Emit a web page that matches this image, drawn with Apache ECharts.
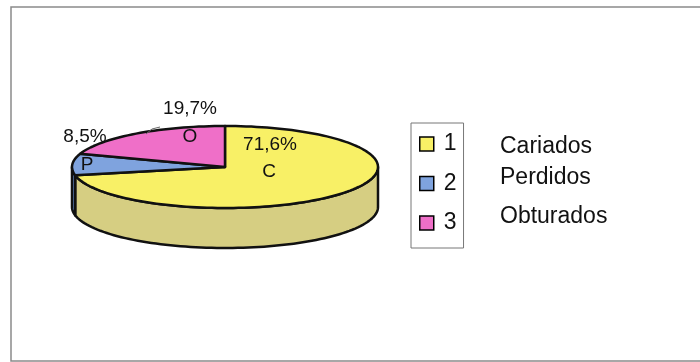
<!DOCTYPE html>
<html>
<head>
<meta charset="utf-8">
<script src="https://cdn.jsdelivr.net/npm/echarts@6/dist/echarts.min.js"></script>
<style>html,body{margin:0;padding:0;background:#fff}#c{width:700px;height:362px}</style>
</head>
<body>
<div id="c"></div>
<script>
// ---- data ----
var legendKeys = ['1', '2', '3'];
var categories = ['Cariados', 'Perdidos', 'Obturados'];
var codes = ['C', 'P', 'O'];
var values = [71.6, 8.5, 19.7];
var pctLabels = ['71,6%', '8,5%', '19,7%'];

// ---- layout / style ----
var topColors = ['#f8f066', '#7fa3de', '#ef6fc8'];
var sideColors = ['#d6ce82', '#5b7fb8', '#c85aa5'];
var CX = 225, CY = 167, RX = 153, RY = 41, DEPTH = 40;
var pctPos = [[270, 145], [85, 137], [190, 109]];
var codePos = [[269, 172], [87, 165], [190, 137]];
var namePos = [[500, 148], [500, 179], [500, 218]];

var total = values.reduce(function (a, b) { return a + b; }, 0);
function pt(thDeg, dy) {
  var t = thDeg * Math.PI / 180;
  return [CX + RX * Math.cos(t), CY - RY * Math.sin(t) + (dy || 0)];
}
function arcPts(a, b, dy) {
  var pts = [], n = Math.max(2, Math.ceil(Math.abs(b - a) / 2));
  for (var i = 0; i <= n; i++) pts.push(pt(a + (b - a) * i / n, dy));
  return pts;
}

function makeRender(idx) {
  return function (params, api) {
    var v = api.value(0);
    var before = 0;
    for (var i = 0; i < idx; i++) before += values[i];
    var th1 = 90 - 360 * before / total;          // start (clockwise)
    var th2 = 90 - 360 * (before + v) / total;    // end
    var lo = Math.min(th1, th2), hi = Math.max(th1, th2);
    var children = [];
    // side faces (front half: angles in [-180-360k, -360k])
    for (var k = 0; k <= 1; k++) {
      var a = Math.max(lo, -180 - 360 * k), b = Math.min(hi, -360 * k);
      if (b > a) {
        var topArc = arcPts(a, b, 0);
        var botArc = arcPts(b, a, DEPTH);
        children.push({
          type: 'polygon', z2: 1,
          shape: { points: topArc.concat(botArc) },
          style: { fill: sideColors[idx], stroke: '#111', lineWidth: 2.5, lineJoin: 'round' }
        });
      }
    }
    // top face sector
    var pts = [[CX, CY]].concat(arcPts(th1, th2, 0));
    children.push({
      type: 'polygon', z2: 10,
      shape: { points: pts },
      style: { fill: topColors[idx], stroke: '#111', lineWidth: 2.5, lineJoin: 'round' }
    });
    var font = '19px "Liberation Sans", Arial, sans-serif';
    children.push({
      type: 'text', z2: 20,
      style: { text: pctLabels[idx], x: pctPos[idx][0], y: pctPos[idx][1], fill: '#111',
               font: font, align: 'center', verticalAlign: 'middle' }
    });
    children.push({
      type: 'text', z2: 20,
      style: { text: codes[idx], x: codePos[idx][0], y: codePos[idx][1], fill: '#111',
               font: font, align: 'center', verticalAlign: 'middle' }
    });
    if (idx === 2) {
      children.push({
        type: 'polyline', z2: 21,
        shape: { points: [[146, 134], [152, 129], [160, 127]] },
        style: { stroke: '#666', lineWidth: 1, fill: null }
      });
    }
    return { type: 'group', children: children };
  };
}

var series = legendKeys.map(function (k, i) {
  return {
    type: 'custom', name: k, coordinateSystem: 'none',
    data: [[values[i]]],
    itemStyle: { color: topColors[i] },
    renderItem: makeRender(i),
    silent: true, animation: false
  };
});

var graphics = [{
  type: 'rect', shape: { x: 11, y: 7, width: 720, height: 354 },
  style: { fill: null, stroke: '#8a8a8a', lineWidth: 1.5 }, z: -1
}];
categories.forEach(function (c, i) {
  graphics.push({
    type: 'text', left: namePos[i][0], top: namePos[i][1] - 13,
    style: { text: c, font: '23px "Liberation Sans", Arial, sans-serif', fill: '#111' }
  });
});

var chart = echarts.init(document.getElementById('c'), null, { renderer: 'canvas' });
chart.setOption({
  animation: false,
  backgroundColor: '#fff',
  legend: {
    data: legendKeys,
    orient: 'vertical',
    left: 411, top: 123,
    padding: [9, 7, 13, 8],
    itemWidth: 14, itemHeight: 14, itemGap: 15.5,
    icon: 'rect',
    borderColor: '#777', borderWidth: 1,
    selectedMode: false,
    itemStyle: { borderColor: '#000', borderWidth: 1.5 },
    textStyle: { fontSize: 23, lineHeight: 24, color: '#111', fontFamily: '"Liberation Sans", Arial, sans-serif', padding: [0, 0, 0, 5] }
  },
  graphic: graphics,
  series: series
});
</script>
</body>
</html>
